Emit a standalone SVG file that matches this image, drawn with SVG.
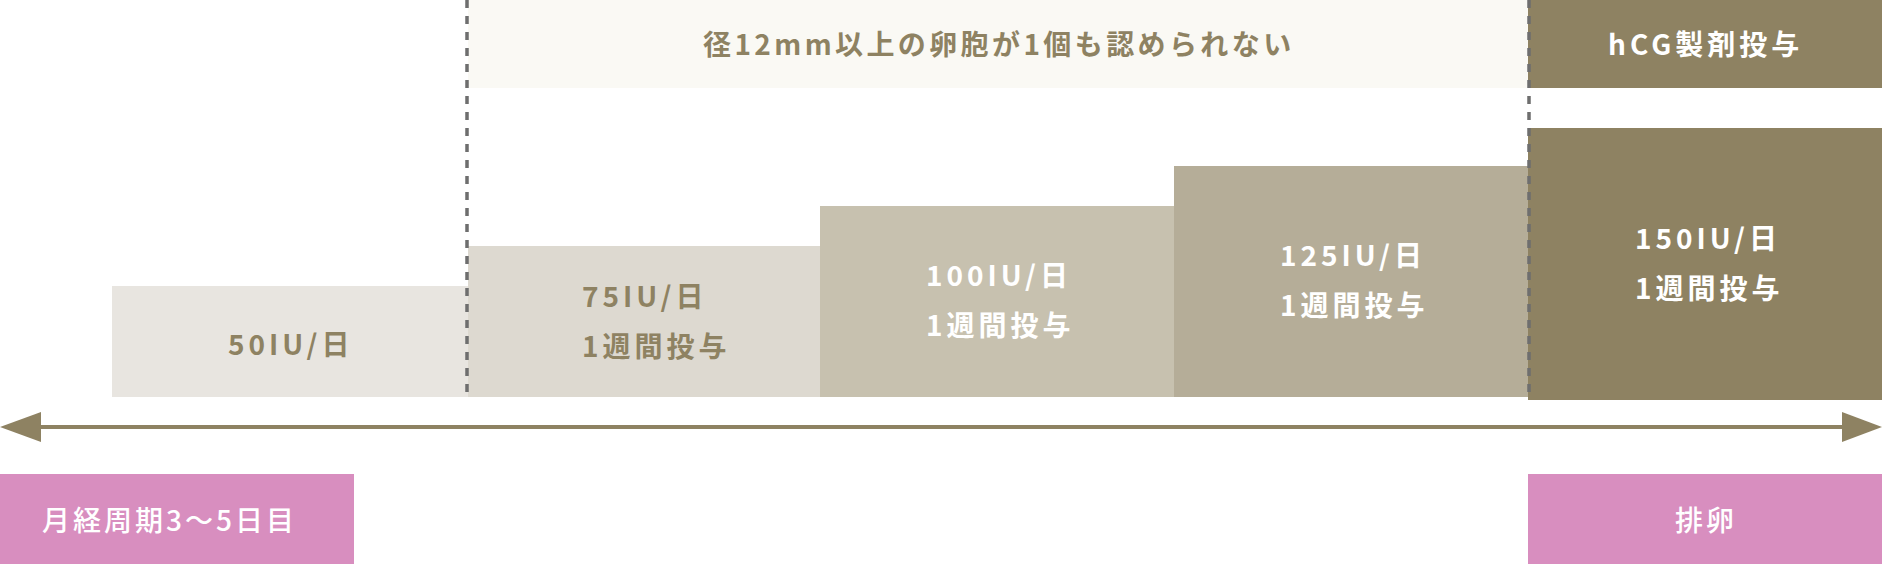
<svg xmlns="http://www.w3.org/2000/svg" width="1882" height="564" viewBox="0 0 1882 564">
<style>
text{font-family:"Noto Sans CJK JP","Noto Sans",sans-serif;font-size:28px;font-weight:700;letter-spacing:4px}
.br{fill:#8E8262}
.wh{fill:#FFFFFF}
.pk{font-weight:500;letter-spacing:3px}
.dash{stroke:#6E6E6E;stroke-width:3.5;stroke-dasharray:8 8;fill:none}
</style>
<rect width="1882" height="564" fill="#FFFFFF"/>
<g id="band-top">
<rect x="468" y="0" width="1060" height="88" fill="#FAF9F4"/>
<text class="br" x="703" y="55" style="letter-spacing:3.4px">径12mm以上の卵胞が1個も認められない</text>
</g>
<g id="hcg">
<rect x="1528" y="0" width="354" height="88" fill="#8E8262"/>
<text class="wh" x="1608" y="55">hCG製剤投与</text>
</g>
<g id="dose50">
<rect x="112" y="286" width="356" height="111" fill="#E8E5E0"/>
<text class="br" x="228" y="355">50IU/日</text>
</g>
<g id="dose75">
<rect x="468" y="246" width="352" height="151" fill="#DDD9D0"/>
<text class="br" x="582" y="307">75IU/日</text>
<text class="br" x="582" y="357">1週間投与</text>
</g>
<g id="dose100">
<rect x="820" y="206" width="354" height="191" fill="#C7C1AF"/>
<text class="wh" x="926" y="286">100IU/日</text>
<text class="wh" x="926" y="336">1週間投与</text>
</g>
<g id="dose125">
<rect x="1174" y="166" width="354" height="231" fill="#B5AD98"/>
<text class="wh" x="1280" y="266">125IU/日</text>
<text class="wh" x="1280" y="316">1週間投与</text>
</g>
<g id="dose150">
<rect x="1528" y="128" width="354" height="272" fill="#8E8262"/>
<text class="wh" x="1635" y="249">150IU/日</text>
<text class="wh" x="1635" y="299">1週間投与</text>
</g>
<g id="start">
<rect x="0" y="474" width="354" height="90" fill="#D88EBF"/>
<text class="wh pk" x="42" y="531">月経周期3〜5日目</text>
</g>
<g id="ovulation">
<rect x="1528" y="474" width="354" height="90" fill="#D88EBF"/>
<text class="wh pk" x="1675" y="531">排卵</text>
</g>
<g id="connectors">
<line class="dash" x1="467" y1="0" x2="467" y2="397"/>
<line class="dash" x1="1529" y1="0" x2="1529" y2="397"/>
<line x1="40" y1="427" x2="1843" y2="427" stroke="#8E8262" stroke-width="4"/>
<polygon points="0,427 41,412 41,442" fill="#8E8262"/>
<polygon points="1882,427 1842,412 1842,442" fill="#8E8262"/>
</g>
</svg>
